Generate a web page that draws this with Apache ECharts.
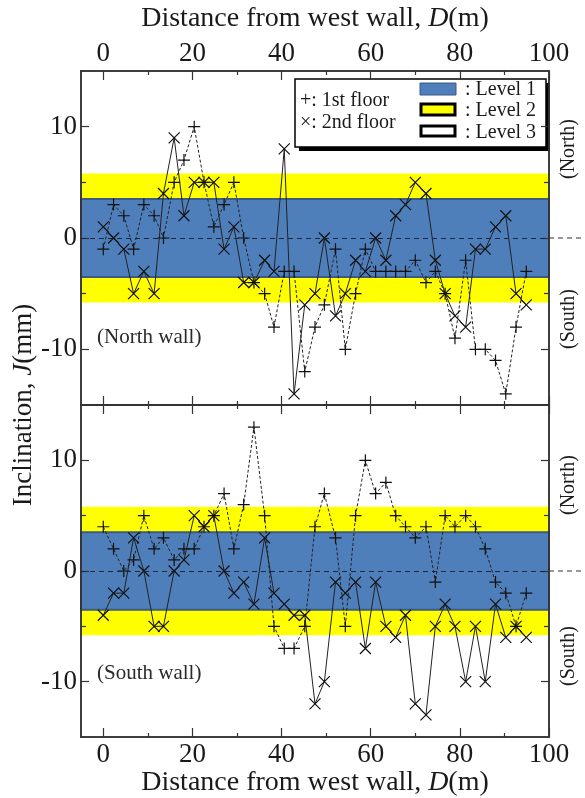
<!DOCTYPE html>
<html>
<head>
<meta charset="utf-8">
<script src="https://cdn.jsdelivr.net/npm/echarts@6/dist/echarts.min.js"></script>
<style>
  html, body { margin: 0; padding: 0; background: #fff; }
  #chart { width: 585px; height: 798px; }
</style>
</head>
<body>
<div id="chart"></div>
<script>
// measuring points along the wall (m)
const distance = [0, 2.3, 4.6, 6.8, 9.1, 11.4, 13.5, 15.9, 18.1, 20.4, 22.6, 24.8, 27.1, 29.3, 31.5,
  33.8, 36.2, 38.3, 40.6, 42.8, 45.2, 47.5, 49.6, 52.1, 54.3, 56.6, 58.8, 61.1, 63.4, 65.6,
  67.8, 70.0, 72.4, 74.5, 76.7, 78.9, 81.3, 83.5, 85.7, 88.0, 90.3, 92.6, 94.9];

// inclination J (mm), north wall
const north1st = [-1, 3, 2, -1, 3, 2, 0, 5, 7, 10, 5, 1, 3, 5, 0, -4, -5, -8, -3, -3, -12, -8, -6, -1,
  -10, -5, -1, -3, -3, -3, -3, -2, -4, -3, -5, -9, -2, -10, -10, -11, -14, -8, -3];
const north2nd = [1, 0, -1, -5, -3, -5, 4, 9, 2, 5, 5, 5, -1, 1, -4, -4, -2, -3, 8, -14, -6, -5, 0, -7,
  -5, -2, -3, 0, -2, 2, 3, 5, 4, -2, -5, -7, -8, -1, -1, 1, 2, -5, -6];

// inclination J (mm), south wall
const south1st = [4, 2, 0, 1, 5, 2, 3, 1, 2, 2, 4, 5, 7, 2, 6, 13, 5, -5, -7, -7, -5, 4, 7, 3, -5, 5,
  10, 7, 8, 5, 4, 3, 4, -1, 5, 4, 5, 4, 2, -1, -2, -5, -2];
const south2nd = [-4, -2, -2, 3, 0, -5, -5, 0, 1, 5, 4, 5, 0, -2, -1, -3, 3, -2, -3, -4, -4, -12, -10,
  -1, -2, -1, -7, -1, -5, -6, -4, -12, -13, -5, -3, -5, -10, -5, -10, -3, -6, -5, -6];

// damage levels (mm)
const LEVEL1 = 3.5;
const LEVEL2 = 5.8;

const xTicks = [0, 20, 40, 60, 80, 100];
const xMinorTicks = [10, 30, 50, 70, 90];
const yTicks = [-10, 0, 10];
const yMinorTicks = [-5, 5];

const FONT = 'Liberation Serif';
const INK = '#1a1a1a';
const PLUS = 'path://M0,5L10,5M5,0L5,10';
const CROSS = 'path://M0,0L10,10M10,0L0,10';

const chart = echarts.init(document.getElementById('chart'));

const axisName = 'Distance from west wall, {i|D}(m)';
const nameStyle = {
  fontFamily: FONT, fontSize: 28, color: INK,
  rich: { i: { fontFamily: FONT, fontSize: 28, fontStyle: 'italic', color: INK } }
};

function xAxisAt(gridIndex, position, ticks, len, withLabel) {
  return {
    type: 'value', gridIndex: gridIndex, position: position, min: -5, max: 100, z: 3,
    axisLine: { show: true, onZero: false, lineStyle: { color: '#333', width: 1.5 } },
    axisTick: { show: true, inside: true, length: len, customValues: ticks, lineStyle: { color: '#333', width: 1.2 } },
    axisLabel: { show: withLabel, customValues: xTicks, margin: 4, fontFamily: FONT, fontSize: 27, color: INK },
    splitLine: { show: false },
    name: withLabel ? axisName : '',
    nameLocation: 'middle',
    nameGap: position === 'top' ? 38 : 32,
    nameTextStyle: nameStyle
  };
}

function yAxisAt(gridIndex, position, ticks, len, withLabel) {
  return {
    type: 'value', gridIndex: gridIndex, position: position, min: -15, max: 15, z: 3,
    axisLine: { show: true, onZero: false, lineStyle: { color: '#333', width: 1.5 } },
    axisTick: { show: true, inside: true, length: len, customValues: ticks, lineStyle: { color: '#333', width: 1.2 } },
    axisLabel: { show: withLabel, customValues: yTicks, margin: 4, fontFamily: FONT, fontSize: 27, color: INK },
    splitLine: { show: false }
  };
}

function wallSeries(xIdx, yIdx, first, second) {
  return [
    {
      name: '1st floor', type: 'line', xAxisIndex: xIdx, yAxisIndex: yIdx, z: 4,
      data: distance.map((d, i) => [d, first[i]]),
      symbol: PLUS, symbolSize: 12,
      lineStyle: { color: '#222', width: 1, type: [3, 2] },
      itemStyle: { color: '#222', borderColor: '#111', borderWidth: 1.2 },
      markArea: {
        silent: true,
        label: { show: false },
        data: [
          [{ yAxis: -LEVEL2, itemStyle: { color: '#ffff00', opacity: 1 } }, { yAxis: LEVEL2 }],
          [{ yAxis: -LEVEL1, itemStyle: { color: '#4f7fbb', opacity: 1, borderColor: '#3d5b82', borderWidth: 2 } }, { yAxis: LEVEL1 }]
        ]
      },
      markLine: {
        silent: true, symbol: ['none', 'none'],
        label: { show: false },
        lineStyle: { color: '#1c2640', width: 1, type: [5, 4] },
        data: [{ yAxis: 0 }]
      }
    },
    {
      name: '2nd floor', type: 'line', xAxisIndex: xIdx, yAxisIndex: yIdx, z: 4,
      data: distance.map((d, i) => [d, second[i]]),
      symbol: CROSS, symbolSize: 11,
      lineStyle: { color: '#222', width: 1 },
      itemStyle: { color: '#222', borderColor: '#111', borderWidth: 1.2 }
    }
  ];
}

const option = {
  animation: false,
  backgroundColor: '#fff',
  grid: [
    { left: 81, right: 36, top: 71, height: 334 },
    { left: 81, right: 36, top: 405, height: 334 }
  ],
  xAxis: [
    xAxisAt(0, 'top', xTicks, 9, true),
    xAxisAt(0, 'bottom', xTicks, 9, false),
    xAxisAt(0, 'top', xMinorTicks, 4, false),
    xAxisAt(0, 'bottom', xMinorTicks, 4, false),
    xAxisAt(1, 'bottom', xTicks, 9, true),
    xAxisAt(1, 'top', xTicks, 9, false),
    xAxisAt(1, 'bottom', xMinorTicks, 4, false),
    xAxisAt(1, 'top', xMinorTicks, 4, false)
  ],
  yAxis: [
    yAxisAt(0, 'left', yTicks, 8, true),
    yAxisAt(0, 'right', yTicks, 8, false),
    yAxisAt(0, 'left', yMinorTicks, 5, false),
    yAxisAt(0, 'right', yMinorTicks, 5, false),
    yAxisAt(1, 'left', yTicks, 8, true),
    yAxisAt(1, 'right', yTicks, 8, false),
    yAxisAt(1, 'left', yMinorTicks, 5, false),
    yAxisAt(1, 'right', yMinorTicks, 5, false)
  ],
  series: wallSeries(0, 0, north1st, north2nd).concat(wallSeries(4, 4, south1st, south2nd))
};

chart.setOption(option);

// zero line continues past the right frame
const xEnd = chart.convertToPixel({ xAxisIndex: 0 }, 100);
const zeroTop = chart.convertToPixel({ yAxisIndex: 0 }, 0);
const zeroBottom = chart.convertToPixel({ yAxisIndex: 4 }, 0);

const sideText = (text, x, y) => ({
  type: 'text', x: x, y: y, rotation: Math.PI / 2,
  style: { text: text, font: '20px "Liberation Serif"', fill: INK, align: 'center', verticalAlign: 'middle' }
});

const legendText = (text, x, y) => ({
  type: 'text', x: x, y: y,
  style: { text: text, font: '20px "Liberation Serif"', fill: INK, align: 'left', verticalAlign: 'middle' }
});

chart.setOption({
  graphic: [
    { type: 'line', shape: { x1: xEnd, y1: zeroTop, x2: 585, y2: zeroTop }, style: { stroke: '#333', lineWidth: 1, lineDash: [5, 4] } },
    { type: 'line', shape: { x1: xEnd, y1: zeroBottom, x2: 585, y2: zeroBottom }, style: { stroke: '#333', lineWidth: 1, lineDash: [5, 4] } },
    {
      type: 'text', x: 24, y: 405, rotation: Math.PI / 2,
      style: {
        text: 'Inclination, {i|J}(mm)', font: '27px "Liberation Serif"', fill: INK, align: 'center', verticalAlign: 'middle',
        rich: { i: { font: 'italic 27px "Liberation Serif"', fill: INK } }
      }
    },
    sideText('(North)', 569, 149),
    sideText('(South)', 569, 319),
    sideText('(North)', 569, 485),
    sideText('(South)', 569, 656),
    { type: 'text', x: 97, y: 337, style: { text: '(North wall)', font: '21px "Liberation Serif"', fill: '#2a2a2a', verticalAlign: 'middle' } },
    { type: 'text', x: 97, y: 673, style: { text: '(South wall)', font: '21px "Liberation Serif"', fill: '#2a2a2a', verticalAlign: 'middle' } },
    {
      type: 'group', x: 295, y: 79, z: 10,
      children: [
        { type: 'rect', shape: { x: 4, y: 4, width: 251, height: 68 }, style: { fill: '#000' } },
        { type: 'rect', shape: { x: 0, y: 0, width: 251, height: 68 }, style: { fill: '#fff', stroke: '#000', lineWidth: 1.5 } },
        legendText('+: 1st floor', 5, 22),
        legendText('\u00d7: 2nd floor', 5, 44),
        { type: 'rect', shape: { x: 125, y: 4, width: 36, height: 12 }, style: { fill: '#4f7fbb', stroke: '#3d5b82', lineWidth: 1 } },
        { type: 'rect', shape: { x: 126, y: 25, width: 34, height: 11 }, style: { fill: '#ffff00', stroke: '#000', lineWidth: 3 } },
        { type: 'rect', shape: { x: 126, y: 47, width: 34, height: 10 }, style: { fill: '#fff', stroke: '#000', lineWidth: 3 } },
        legendText(': Level 1', 170, 11),
        legendText(': Level 2', 170, 32),
        legendText(': Level 3', 170, 54)
      ]
    }
  ]
});
</script>
</body>
</html>
